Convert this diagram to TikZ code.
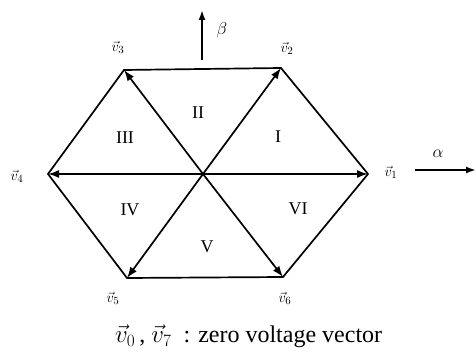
\documentclass[tikz,border=0pt]{standalone}
\usepackage{fontspec}
\setmainfont{Liberation Serif}
\usetikzlibrary{arrows.meta}
\begin{document}
\begin{tikzpicture}[x=1pt,y=-1pt,
  hexedge/.style={line width=1.7pt},
  vec/.style={line width=1.7pt,-{Latex[length=11pt,width=8pt]}},
  axis/.style={line width=1.8pt,-{Latex[length=10pt,width=7pt]}},
  vlab/.style={font=\fontsize{15}{17}\selectfont,inner sep=0pt},
  sector/.style={font=\fontsize{18}{20}\selectfont,inner sep=0pt},
  glab/.style={font=\fontsize{18}{20}\selectfont\itshape,inner sep=0pt}]
\useasboundingbox (0,0) rectangle (476,352);
\coordinate (O) at (203,174);
\coordinate (P1) at (368,174);
\coordinate (P2) at (281,68);
\coordinate (P3) at (124,70);
\coordinate (P4) at (48,174);
\coordinate (P5) at (127,278);
\coordinate (P6) at (283,277);
% hexagon edges
\draw[hexedge] (P1) -- (P2) -- (P3) -- (P4) -- (P5) -- (P6) -- cycle;
% vectors
\foreach \p in {P1,P2,P3,P4,P5,P6} \draw[vec] (O) -- (\p);
% axes
\coordinate (Ba) at (202,60);
\coordinate (Bb) at (202,10);
\draw[axis] (Ba) -- (Bb);
\coordinate (Aa) at (415,170);
\coordinate (Ab) at (476,170);
\draw[axis] (Aa) -- (Ab);
\node[glab] (beta) at (222,30) {$\beta$};
\node[glab] (alpha) at (438,154) {$\alpha$};
% vector labels
\node[vlab] (l1) at (391,172) {$\vec{v}_1$};
\node[vlab] (l2) at (287,48) {$\vec{v}_2$};
\node[vlab] (l3) at (118,47) {$\vec{v}_3$};
\node[vlab] (l4) at (17,176) {$\vec{v}_4$};
\node[vlab] (l5) at (113,298) {$\vec{v}_5$};
\node[vlab] (l6) at (285,298) {$\vec{v}_6$};
% sectors
\node[sector] (s1) at (278,137) {I};
\node[sector] (s2) at (198,113) {II};
\node[sector] (s3) at (125,138) {III};
\node[sector] (s4) at (130,210) {IV};
\node[sector] (s5) at (207,247) {V};
\node[sector] (s6) at (298,209) {VI};
% caption
\node[font=\fontsize{24}{26}\selectfont,inner sep=0pt,anchor=west] (cap) at (115,336) {$\vec{v}_0$\,,\ $\vec{v}_7$\ \ : zero voltage vector};
\end{tikzpicture}
\end{document}
